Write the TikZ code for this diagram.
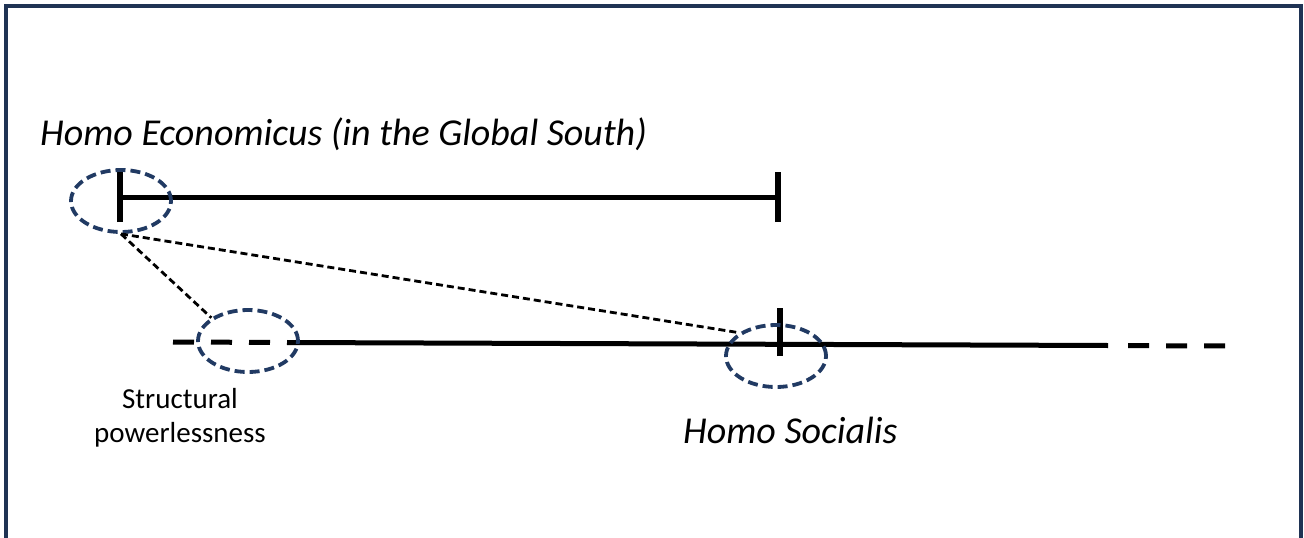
\documentclass[tikz,border=0pt]{standalone}
\usepackage{fontspec}
\usetikzlibrary{shapes.geometric}
\setmainfont{Carlito}
\definecolor{navy}{HTML}{1F3354}
\definecolor{ringblue}{HTML}{213A63}
\begin{document}
\begin{tikzpicture}[x=1pt,y=-1pt,
  axis/.style={line width=5pt},
  tick/.style={line width=5.4pt},
  ring/.style={draw=ringblue,line width=3.8pt,dash pattern=on 10pt off 5pt,ellipse,minimum width=100pt,minimum height=62pt,inner sep=0pt},
  link/.style={line width=2.8pt,dash pattern=on 7pt off 4pt},
  gapline/.style={line width=5pt,dash pattern=on 21pt off 17pt},
  title/.style={font=\fontsize{38}{44}\selectfont\itshape,anchor=base west,inner sep=0pt},
  small/.style={font=\fontsize{29}{34}\selectfont,align=center,inner sep=0pt,anchor=base}]
\useasboundingbox (0,0) rectangle (1304,538);
% frame (open at the bottom)
\draw[navy,line width=3.2pt] (6,545) -- (6,6) -- (1301,6) -- (1301,545);

% upper scale: Homo Economicus
\coordinate (eL) at (120,197);
\coordinate (eR) at (778,197);
\draw[axis] (eL) -- (eR);
\draw[tick] ([yshift=-25pt]eL) -- ([yshift=25pt]eL);
\draw[tick] ([yshift=-25pt]eR) -- ([yshift=25pt]eR);

% lower scale: Homo Socialis
\coordinate (sA) at (173,342);
\coordinate (sB) at (288,342.5);
\coordinate (sC) at (1108,345.5);
\coordinate (sD) at (1128,345.6);
\coordinate (sE) at (1226,346);
\coordinate (sT) at (780,344);
\draw[gapline] (sA) -- (sB);
\draw[axis] (sB) -- (sC);
\draw[gapline] (sD) -- (sE);
\draw[tick] ([yshift=-12pt]sT) -- ([yshift=36pt]sT);

% rings
\node[ring] (r1) at (121,201) {};
\node[ring] (r2) at (248,341) {};
\node[ring] (r3) at (776,356) {};

% dashed links
\draw[link] (r1.south) -- (r2.north west);
\draw[link] (r1.south) -- (r3.north west);

% labels
\node[title] (he) at (40,145) {Homo Economicus (in the Global South)};
\node[title] (hs) at (683,443) {Homo Socialis};
\node[small] (sp) at (180,442) {Structural\\powerlessness};
\end{tikzpicture}
\end{document}
